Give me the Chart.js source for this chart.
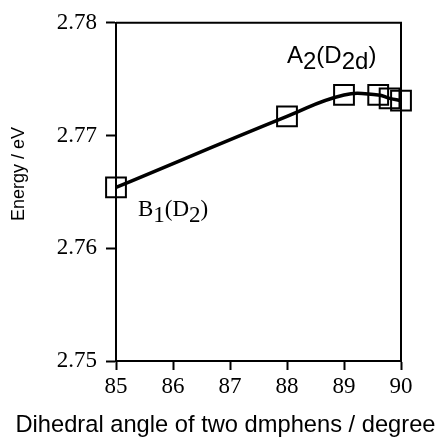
<!DOCTYPE html>
<html><head><meta charset="utf-8">
<script src="https://cdn.jsdelivr.net/npm/chart.js@4.4.0/dist/chart.umd.min.js"></script>
<style>html,body{margin:0;padding:0;background:#fff}#wrap{width:440px;height:437px}</style>
</head><body><div id="wrap"><canvas id="c" width="440" height="437"></canvas></div>
<script>
const angles = [85, 88, 89, 89.6, 89.8, 90];
const energies = [2.7654, 2.7717, 2.7736, 2.7736, 2.7733, 2.7731];
const xTicks = [85, 86, 87, 88, 89, 90];
const yTicks = [2.75, 2.76, 2.77, 2.78];
const xTitle = 'Dihedral angle of two dmphens / degree';
const yTitle = 'Energy / eV';
const stateLabels = [
  {x: 88.0, y: 2.7764, size: 24, parts: [['A',0],['2',1],['(D',0],['2d',1],[')',0]], family: '"Liberation Sans", Arial, sans-serif'},
  {x: 85.386, y: 2.7629, size: 23, parts: [['B',0],['1',1],['(D',0],['2',1],[')',0]], family: '"Liberation Serif", "Times New Roman", serif'}
];

const SANS = '"Liberation Sans", Arial, sans-serif';
const SERIF = '"Liberation Serif", "Times New Roman", serif';

const framePlugin = {
  id: 'frame',
  beforeDatasetsDraw(chart) {
    const {ctx, chartArea: a} = chart;
    ctx.save();
    ctx.strokeStyle = '#000';
    ctx.lineWidth = 2;
    ctx.beginPath();
    ctx.moveTo(a.left, a.top);
    ctx.lineTo(a.right, a.top);
    ctx.lineTo(a.right, a.bottom);
    ctx.stroke();
    ctx.restore();
  }
};

const textPlugin = {
  id: 'texts',
  afterDraw(chart) {
    const {ctx} = chart;
    const xs = chart.scales.x, ys = chart.scales.y;
    ctx.save();
    ctx.fillStyle = '#000';
    stateLabels.forEach(l => {
      ctx.font = l.size + 'px ' + l.family;
      ctx.textAlign = 'left';
      ctx.textBaseline = 'alphabetic';
      let px = xs.getPixelForValue(l.x);
      const py = ys.getPixelForValue(l.y);
      l.parts.forEach(([t, sub]) => {
        ctx.fillText(t, px, py + (sub ? 6 : 0));
        px += ctx.measureText(t).width;
      });
    });
    ctx.font = '23.7px ' + SANS;
    ctx.textAlign = 'center';
    ctx.textBaseline = 'alphabetic';
    ctx.fillText(xTitle, 225.5, 432);
    ctx.translate(19, 174);
    ctx.rotate(-Math.PI / 2);
    ctx.font = '18px ' + SANS;
    ctx.textBaseline = 'middle';
    ctx.fillText(yTitle, 0, 0);
    ctx.restore();
  }
};

new Chart(document.getElementById('c'), {
  type: 'line',
  data: {
    datasets: [{
      data: angles.map((a, i) => ({x: a, y: energies[i]})),
      borderColor: '#000',
      borderWidth: 3.5,
      tension: 0.45,
      fill: false,
      pointStyle: 'rect',
      pointRadius: 14,
      pointHoverRadius: 14,
      pointBorderWidth: 2,
      pointBorderColor: '#000',
      pointBackgroundColor: 'rgba(0,0,0,0)',
      clip: false
    }]
  },
  options: {
    responsive: false,
    devicePixelRatio: 1,
    animation: false,
    layout: {padding: {top: 21, right: 39, left: 0, bottom: 0}},
    plugins: {legend: {display: false}, tooltip: {enabled: false}},
    scales: {
      x: {
        type: 'linear', min: 85, max: 90,
        afterBuildTicks: s => { s.ticks = xTicks.map(v => ({value: v})); },
        afterFit: s => { s.height = 76; },
        ticks: {font: {family: SERIF, size: 23}, color: '#000', padding: 3, maxRotation: 0, callback: v => String(v)},
        grid: {drawOnChartArea: false, drawTicks: true, tickLength: 9, tickWidth: 2, tickColor: '#000'},
        border: {display: true, color: '#000', width: 2}
      },
      y: {
        type: 'linear', min: 2.75, max: 2.78,
        afterBuildTicks: s => { s.ticks = yTicks.map(v => ({value: v})); },
        afterFit: s => { s.width = 116; },
        ticks: {font: {family: SERIF, size: 23}, color: '#000', padding: 9, callback: v => Number(v).toFixed(2)},
        grid: {drawOnChartArea: false, drawTicks: true, tickLength: 10, tickWidth: 2, tickColor: '#000'},
        border: {display: true, color: '#000', width: 2}
      }
    }
  },
  plugins: [framePlugin, textPlugin]
});
</script>
</body></html>
